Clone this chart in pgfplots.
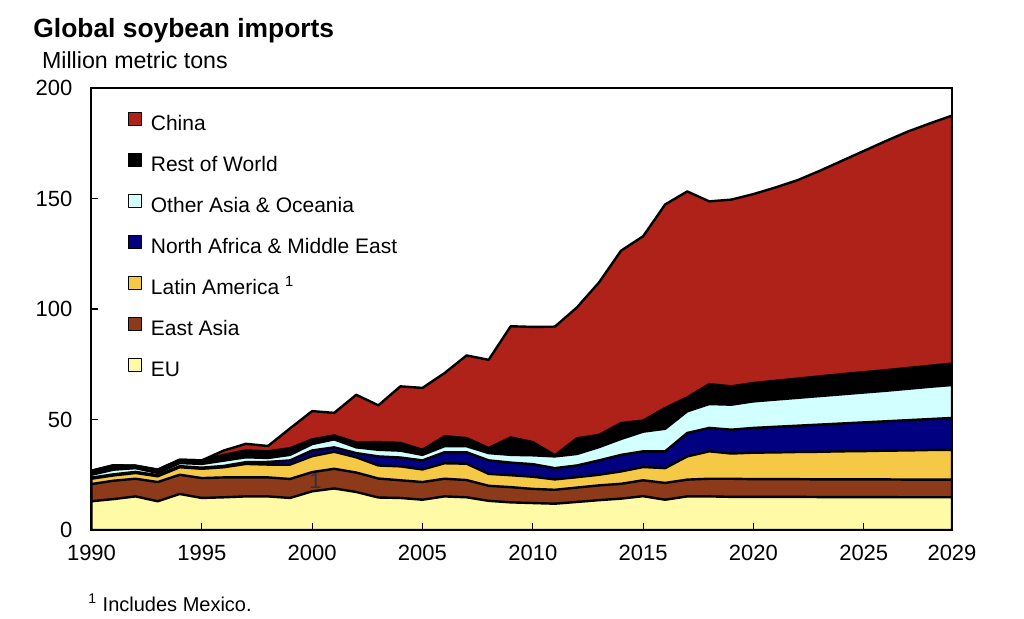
\documentclass[border=0pt]{standalone}
\usepackage{fontspec}
\setmainfont{Liberation Sans}
\usepackage{pgfplots}
\usepackage{pgfplotstable}
\pgfplotsset{compat=1.18}
\definecolor{cChina}{RGB}{175,34,26}
\definecolor{cOA}{RGB}{210,255,255}
\definecolor{cNAME}{RGB}{0,0,128}
\definecolor{cLA}{RGB}{245,200,70}
\definecolor{cEA}{RGB}{140,58,26}
\definecolor{cEU}{RGB}{255,250,165}

% cumulative tops of the stacked layers (million metric tons)
\pgfplotstableread{
year eu ea la name oa row tot
1990 13.0 20.8 23.2 23.7 25.0 26.8 26.8
1991 14.0 22.3 24.7 25.2 27.3 29.3 29.3
1992 15.2 23.2 25.8 26.3 28.0 29.1 29.1
1993 13.0 21.7 24.3 24.8 25.8 27.3 27.3
1994 16.3 25.0 28.4 28.9 30.3 31.8 31.8
1995 14.5 23.5 27.7 28.2 29.9 31.5 31.5
1996 14.8 23.8 28.4 29.0 31.4 34.0 36.0
1997 15.2 23.8 29.9 30.7 32.9 36.0 39.0
1998 15.2 23.8 29.6 30.8 32.6 35.6 38.0
1999 14.5 23.1 29.6 31.5 34.0 37.0 46.0
2000 17.5 26.2 33.4 36.0 38.9 41.0 53.8
2001 18.8 27.7 35.4 37.4 41.0 42.8 53.0
2002 17.2 26.0 32.9 34.8 37.4 39.6 61.2
2003 14.7 23.3 29.2 33.3 36.3 39.8 56.4
2004 14.5 22.5 28.8 32.8 35.9 39.4 65.0
2005 13.7 21.7 27.4 31.5 34.0 36.3 64.3
2006 15.2 23.2 30.2 35.2 37.9 42.4 71.0
2007 14.8 22.6 30.0 35.2 37.9 41.6 79.0
2008 13.2 20.0 25.4 31.5 34.8 37.1 77.0
2009 12.5 19.4 24.8 30.5 34.0 41.9 92.2
2010 12.2 18.6 24.1 29.8 33.8 39.8 91.9
2011 11.9 18.2 22.9 28.0 33.3 33.8 92.0
2012 12.7 19.2 23.9 29.2 34.4 41.5 100.7
2013 13.5 20.2 25.0 31.5 37.5 43.0 112.0
2014 14.2 20.9 26.5 34.0 41.2 48.4 126.4
2015 15.3 22.5 28.5 35.6 44.5 49.5 132.9
2016 13.7 21.3 28.0 35.6 45.8 55.2 147.3
2017 15.2 22.8 33.3 43.9 53.7 60.0 153.2
2018 15.2 23.2 35.6 46.2 57.0 66.0 148.7
2019 15.0 23.2 34.6 45.4 56.7 65.0 149.5
2020 15.0 23.0 35.0 46.2 58.2 66.5 152.0
2021 15.0 23.0 35.1 46.7 59.0 67.5 155.0
2022 15.0 23.0 35.3 47.2 59.8 68.5 158.3
2023 14.9 22.9 35.4 47.7 60.6 69.5 162.5
2024 14.9 22.9 35.6 48.2 61.4 70.5 167.0
2025 14.9 22.9 35.7 48.7 62.2 71.4 171.5
2026 14.9 22.9 35.9 49.2 63.0 72.3 176.0
2027 14.8 22.8 36.0 49.7 63.9 73.3 180.3
2028 14.8 22.8 36.2 50.2 64.8 74.3 184.0
2029 14.8 22.8 36.3 50.7 65.6 75.3 187.5
}\data

\begin{document}
\begin{tikzpicture}
\path[use as bounding box] (-45.75pt,-44pt) rectangle (466.25pt,265pt);
\begin{axis}[
  at={(0,0)}, anchor=south west, scale only axis,
  width=430.25pt, height=221pt,
  xmin=1990, xmax=2029, ymin=0, ymax=200,
  xtick={1990,1995,2000,2005,2010,2015,2020,2025,2029},
  ytick={0,50,100,150,200},
  tick align=inside, xtick pos=bottom, ytick pos=left,
  major tick length=3.5pt,
  tick style={black, line width=0.6pt},
  axis line style={black, line width=1pt},
  axis on top,
  tick label style={font=\fontsize{11}{13}\selectfont},
  /pgf/number format/assume math mode=true,
  /pgf/number format/1000 sep={},
  xticklabel style={yshift=-4pt},
  yticklabel style={xshift=-6pt},
  legend cell align=left,
  legend style={at={(axis description cs:0,1)}, anchor=north west,
    xshift=18pt, yshift=-12pt, draw=none, fill=none, inner sep=0pt,
    font=\fontsize{10.5}{12}\selectfont, row sep=8pt, column sep=3.5pt,
    nodes={inner sep=1pt, text height=8pt, text depth=2.5pt}},
  legend image code/.code={\draw[#1, draw=black, line width=0.5pt] (0pt,-0.5pt) rectangle (6.5pt,6pt);},
  every axis plot/.append style={draw=black, line width=1.2pt, line join=round},
]
\addplot[fill=cChina] table[x=year,y=tot]{\data} \closedcycle;
\addlegendentry{China}
\addplot[fill=black] table[x=year,y=row]{\data} \closedcycle;
\addlegendentry{Rest of World}
\addplot[fill=cOA] table[x=year,y=oa]{\data} \closedcycle;
\addlegendentry{Other Asia \& Oceania}
\addplot[fill=cNAME] table[x=year,y=name]{\data} \closedcycle;
\addlegendentry{North Africa \& Middle East}
\addplot[fill=cLA] table[x=year,y=la]{\data} \closedcycle;
\addlegendentry{Latin America \textsuperscript{1}}
\addplot[fill=cEA] table[x=year,y=ea]{\data} \closedcycle;
\addlegendentry{East Asia}
\addplot[fill=cEU] table[x=year,y=eu]{\data} \closedcycle;
\addlegendentry{EU}
\node[font=\fontsize{11}{13}\selectfont, text=black!80] at (axis cs:2000.15,22.3) {1};
\end{axis}
\node[anchor=base west, inner sep=0pt, font=\bfseries\fontsize{13.2}{15}\selectfont] at (-29.25pt,246.5pt) {Global soybean imports};
\node[anchor=base west, inner sep=0pt, font=\fontsize{11.6}{14}\selectfont] at (-24.9pt,230.6pt) {Million metric tons};
\node[anchor=base west, inner sep=0pt, font=\fontsize{10}{12}\selectfont] at (-1.75pt,-40.5pt) {\textsuperscript{1} Includes Mexico.};
\end{tikzpicture}
\end{document}
